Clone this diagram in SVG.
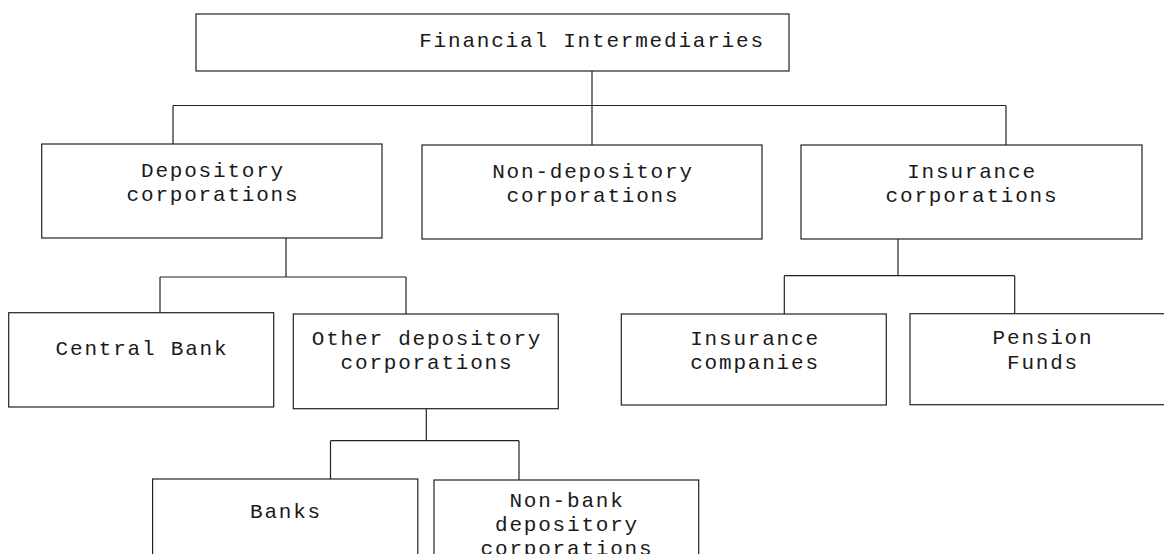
<svg xmlns="http://www.w3.org/2000/svg" width="1164" height="554" viewBox="0 0 1164 554">
<style>
.box{fill:#fff;stroke:#222;stroke-width:1.2}
.t{font-family:"Liberation Mono","Courier New",monospace;font-size:21px;letter-spacing:1.8px;fill:#1a1a1a;text-anchor:middle}
.c{fill:none;stroke:#222;stroke-width:1.2}
</style>
<rect width="1164" height="554" fill="#fff"/>
<g id="connectors">
<path class="c" d="M592 71V105.5M173 105.5H1006M173 105.5V144M592 105.5V145M1006 105.5V145"/>
<path class="c" d="M286 238V277M160 277H406M160 277V313M406 277V314"/>
<path class="c" d="M426.3 408.7V440.7M330.5 440.7H519M330.5 440.7V479M519 440.7V480"/>
<path class="c" d="M898 239V275.7M784.3 275.7H1014.7M784.3 275.7V314M1014.7 275.7V314"/>
</g>
<g id="n-root"><rect class="box" x="196" y="14" width="593" height="57"/><text class="t" x="592" y="47">Financial Intermediaries</text></g>
<g id="n-dep"><rect class="box" x="41.7" y="144" width="340.3" height="94"/><text class="t" x="213" y="177">Depository</text><text class="t" x="213" y="201">corporations</text></g>
<g id="n-nondep"><rect class="box" x="422" y="145" width="340" height="94"/><text class="t" x="593" y="178">Non-depository</text><text class="t" x="593" y="202">corporations</text></g>
<g id="n-inscorp"><rect class="box" x="801" y="145" width="341" height="94"/><text class="t" x="972" y="178">Insurance</text><text class="t" x="972" y="202">corporations</text></g>
<g id="n-central"><rect class="box" x="8.7" y="312.7" width="265" height="94.3"/><text class="t" x="142" y="355">Central Bank</text></g>
<g id="n-otherdep"><rect class="box" x="293.3" y="314" width="265" height="94.7"/><text class="t" x="427" y="345">Other depository</text><text class="t" x="427" y="369">corporations</text></g>
<g id="n-inscomp"><rect class="box" x="621.3" y="314" width="265" height="91"/><text class="t" x="755" y="345">Insurance</text><text class="t" x="755" y="369">companies</text></g>
<g id="n-pension"><rect class="box" x="910" y="313.7" width="265" height="91"/><text class="t" x="1043" y="344">Pension</text><text class="t" x="1043" y="369">Funds</text></g>
<g id="n-banks"><rect class="box" x="152.6" y="479" width="265.2" height="100"/><text class="t" x="286" y="518">Banks</text></g>
<g id="n-nonbank"><rect class="box" x="434" y="480" width="264.7" height="100"/><text class="t" x="567" y="507">Non-bank</text><text class="t" x="567" y="531">depository</text><text class="t" x="567" y="555">corporations</text></g>
</svg>
